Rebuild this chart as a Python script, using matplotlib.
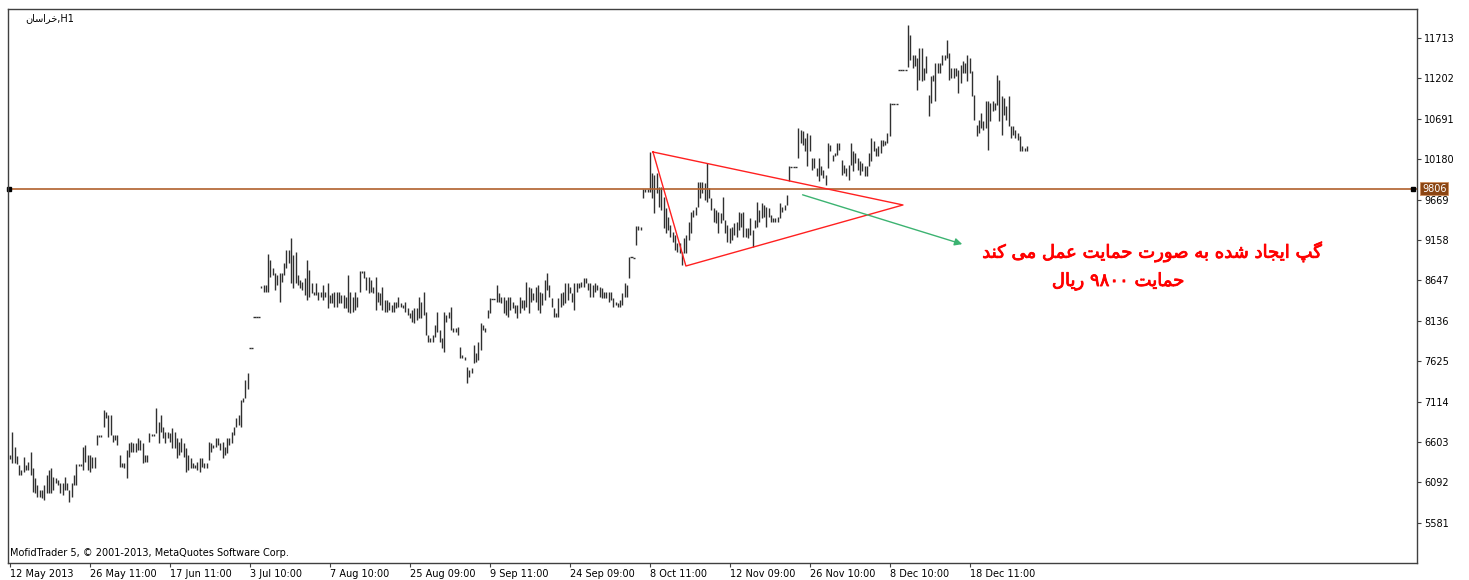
'''
Khorasan H1 bar chart (MofidTrader screenshot) with support line and triangle
'''

import re
import matplotlib
matplotlib.use('Agg')
import matplotlib.pyplot as plt
import matplotlib.patheffects as pe
import numpy as np

# bar highs / lows (rial), one entry per H1 bar, left to right
highs = [
    6438, 6729, 6539, 6426, 6312, 6249, 6413, 6312, 6350, 6476, 6274, 6147, 6059, 5996, 5996,
    6059, 6185, 6249, 6274, 6160, 6147, 6122, 6084, 6084, 6160, 6084, 5996, 6084, 6185, 6324,
    6324, 6324, 6539, 6565, 6438, 6438, 6413, 6413, 6691, 6691, 6691, 7008, 6982, 6944, 6944,
    6691, 6691, 6691, 6438, 6337, 6337, 6501, 6590, 6603, 6590, 6590, 6653, 6628, 6590, 6438,
    6438, 6717, 6704, 6704, 7033, 6856, 6944, 6792, 6729, 6729, 6717, 6780, 6729, 6653, 6603,
    6653, 6590, 6527, 6438, 6400, 6337, 6312, 6350, 6400, 6400, 6337, 6337, 6603, 6590, 6565,
    6653, 6653, 6590, 6603, 6539, 6653, 6653, 6729, 6792, 6906, 6944, 7134, 7159, 7387,
    # Jul - Aug
    7476, 7792, 7792, 8184, 8184, 8184, 8576, 8589, 8589, 8981, 8905, 8804, 8741, 8715, 8741,
    8741, 8867, 9032, 9032, 9183, 8968, 9006, 8715, 8652, 8627, 8677, 8905, 8779, 8614, 8500,
    8614, 8500, 8500, 8589, 8500, 8614, 8462, 8488, 8500, 8500, 8500, 8462, 8462, 8437, 8715,
    8500, 8437, 8500, 8437, 8766, 8766, 8766, 8690, 8690, 8652, 8563, 8690, 8500, 8488, 8563,
    8399, 8399, 8374, 8336, 8374, 8374, 8437, 8361, 8336, 8374, 8298, 8235, 8273, 8298, 8298,
    8437, 8374, 8500, 8247, 7956, 7918, 7956, 8083, 8247, 8020, 7918, 8247, 8209, 8247, 8310,
    8045, 8045, 8057, 7804, 7703, 7678, 7551, 7514, 7539, 7830, 7729, 7868, 8108, 8083, 8045,
    8273,
    # Sep - Nov
    8424, 8412, 8412, 8589, 8488, 8437, 8437, 8399, 8437, 8437, 8374, 8336, 8336, 8437, 8399,
    8399, 8627, 8563, 8551, 8488, 8563, 8589, 8500, 8488, 8652, 8741, 8589, 8424, 8298, 8235,
    8424, 8488, 8500, 8614, 8614, 8563, 8488, 8614, 8614, 8614, 8627, 8677, 8677, 8614, 8614,
    8589, 8614, 8589, 8563, 8551, 8500, 8500, 8500, 8500, 8424, 8374, 8361, 8399, 8488, 8614,
    8589, 8943, 8943, 8930, 9335, 9335, 9322, 9803, 9803, 9803, 10271, 10006, 9980, 10006, 9828,
    9828, 9702, 9563, 9449, 9348, 9259, 9221, 9120, 9120, 9006, 9183, 9221, 9386, 9512, 9538,
    9575, 9892, 9892, 9892, 9879, 10132, 9816, 9689, 9563, 9538, 9512, 9500, 9702, 9411, 9348,
    9310, 9322, 9373, 9386, 9512, 9500, 9512, 9310, 9310, 9436, 9285, 9411, 9639, 9538, 9626,
    9601, 9575, 9563, 9474, 9436, 9436, 9449, 9626, 9575, 9601, 9727,
    # Nov - Dec
    10094, 10081, 10081, 10081, 10575, 10550, 10537, 10448, 10512, 10486, 10195, 10195, 10069, 10195, 10094,
    10044, 9980, 10385, 10360, 10233, 10259, 10385, 10385, 10170, 10107, 10069, 10107, 10385, 10284, 10259,
    10195, 10157, 10132, 10094, 10094, 10259, 10448, 10410, 10322, 10347, 10423, 10423, 10410, 10512, 10891,
    10878, 10878, 10878, 11309, 11309, 11309, 11309, 11878, 11751, 11498, 11498, 11460, 11587, 11587, 11334,
    11486, 10992, 11233, 11246, 11397, 11397, 11397, 11498, 11498, 11688, 11524, 11334, 11334, 11334, 11309,
    11372, 11422, 11397, 11498, 11460, 11296, 10992, 10613, 10676, 10765, 10663, 10916, 10916, 10891, 10916,
    10891, 11246, 11182, 10980, 10954, 10853, 10980, 10600, 10600, 10550, 10512, 10474, 10347, 10322, 10347,
]
lows = [
    6388, 6337, 6337, 6324, 6185, 6185, 6223, 6249, 6249, 6185, 5970, 5958, 5907, 5907, 5894,
    5869, 5958, 5958, 5958, 5996, 6084, 6059, 5958, 5932, 5996, 5996, 5844, 5907, 6059, 6059,
    6299, 6299, 6249, 6350, 6249, 6223, 6274, 6274, 6565, 6666, 6666, 6792, 6906, 6666, 6691,
    6603, 6628, 6565, 6286, 6286, 6274, 6147, 6413, 6476, 6476, 6476, 6501, 6501, 6337, 6350,
    6350, 6603, 6679, 6679, 6717, 6590, 6729, 6653, 6590, 6653, 6603, 6527, 6527, 6400, 6438,
    6476, 6413, 6223, 6249, 6274, 6274, 6274, 6249, 6223, 6286, 6274, 6274, 6375, 6476, 6527,
    6539, 6565, 6501, 6400, 6438, 6464, 6565, 6590, 6691, 6792, 6818, 6792, 7109, 7159,
    # Jul - Aug
    7273, 7792, 7792, 8184, 8184, 8184, 8551, 8500, 8500, 8500, 8690, 8715, 8526, 8589, 8374,
    8627, 8715, 8804, 8867, 8614, 8551, 8614, 8589, 8551, 8526, 8462, 8399, 8437, 8488, 8462,
    8462, 8399, 8437, 8399, 8437, 8298, 8361, 8361, 8310, 8310, 8361, 8361, 8298, 8298, 8247,
    8235, 8247, 8273, 8310, 8500, 8741, 8677, 8526, 8488, 8500, 8488, 8273, 8374, 8336, 8273,
    8247, 8247, 8273, 8247, 8247, 8298, 8310, 8310, 8298, 8247, 8209, 8171, 8121, 8108, 8146,
    8171, 8171, 8209, 7956, 7868, 7868, 7868, 7931, 7994, 7868, 7792, 7741, 8121, 8171, 8020,
    7994, 7994, 7956, 7665, 7665, 7640, 7349, 7425, 7476, 7602, 7615, 7640, 7767, 8020, 7994,
    8171,
    # Sep - Nov
    8235, 8412, 8412, 8374, 8374, 8361, 8235, 8209, 8184, 8273, 8298, 8235, 8171, 8235, 8298,
    8273, 8310, 8235, 8374, 8399, 8374, 8273, 8235, 8336, 8399, 8526, 8437, 8310, 8184, 8184,
    8184, 8310, 8336, 8361, 8399, 8488, 8374, 8273, 8500, 8551, 8563, 8563, 8614, 8526, 8437,
    8437, 8500, 8526, 8437, 8424, 8424, 8424, 8374, 8399, 8310, 8336, 8310, 8310, 8336, 8437,
    8437, 8677, 8943, 8930, 9095, 9285, 9285, 9689, 9765, 9765, 9765, 9689, 9500, 9753, 9575,
    9538, 9310, 9247, 9285, 9196, 9133, 9032, 9006, 8994, 8842, 8994, 8994, 9158, 9247, 9449,
    9474, 9575, 9689, 9753, 9664, 9639, 9689, 9538, 9386, 9373, 9247, 9373, 9411, 9247, 9133,
    9120, 9158, 9221, 9196, 9285, 9322, 9196, 9196, 9183, 9221, 9070, 9310, 9322, 9386, 9436,
    9449, 9322, 9449, 9386, 9386, 9386, 9386, 9436, 9512, 9538, 9601,
    # Nov - Dec
    9904, 10081, 10081, 10081, 10195, 10385, 10360, 10284, 10094, 10284, 10044, 10069, 9968, 9904, 9980,
    9942, 9854, 10069, 10284, 10157, 10221, 10233, 10297, 9980, 10006, 9968, 9917, 10107, 10031, 10132,
    10044, 9980, 10031, 9968, 9968, 10094, 10157, 10284, 10221, 10221, 10259, 10347, 10360, 10385, 10474,
    10878, 10878, 10878, 11309, 11309, 11309, 11309, 11347, 11435, 11334, 11359, 11056, 11182, 11169, 11182,
    11271, 10727, 10891, 11169, 10916, 11271, 11271, 11372, 11435, 11460, 11182, 11207, 11207, 11233, 11018,
    11144, 11271, 11271, 11169, 11271, 10980, 10676, 10474, 10512, 10575, 10550, 10575, 10297, 10663, 10790,
    10803, 10866, 10663, 10486, 10739, 10676, 10600, 10448, 10486, 10448, 10423, 10284, 10284, 10284, 10284,
]

tick_labels = ['12 May 2013', '26 May 11:00', '17 Jun 11:00', '3 Jul 10:00', '7 Aug 10:00',
               '25 Aug 09:00', '9 Sep 11:00', '24 Sep 09:00', '8 Oct 11:00', '12 Nov 09:00',
               '26 Nov 10:00', '8 Dec 10:00', '18 Dec 11:00']
bars_per_label = 35
price_ticks = [5581 + 511 * k for k in range(13)]
support_price = 9806

# chart objects drawn by the analyst: (bar index, price)
triangle_x = [281.4, 295.8, 390.8, 281.4]
triangle_y = [10271, 8829, 9601, 10271]
arrow_from = (345.7, 9740)
arrow_to = (417.9, 9095)

note_line1 = 'گپ ایجاد شده به صورت حمایت عمل می کند'
note_line2 = 'حمایت ۹۸۰۰ ریال'
symbol = 'خراسان'

# arabic presentation forms: isolated, final, initial, medial
FORMS = {
    'ا': ('\uFE8D', '\uFE8E', None, None),
    'ب': ('\uFE8F', '\uFE90', '\uFE91', '\uFE92'),
    'پ': ('\uFB56', '\uFB57', '\uFB58', '\uFB59'),
    'ت': ('\uFE95', '\uFE96', '\uFE97', '\uFE98'),
    'ج': ('\uFE9D', '\uFE9E', '\uFE9F', '\uFEA0'),
    'ح': ('\uFEA1', '\uFEA2', '\uFEA3', '\uFEA4'),
    'خ': ('\uFEA5', '\uFEA6', '\uFEA7', '\uFEA8'),
    'د': ('\uFEA9', '\uFEAA', None, None),
    'ر': ('\uFEAD', '\uFEAE', None, None),
    'س': ('\uFEB1', '\uFEB2', '\uFEB3', '\uFEB4'),
    'ش': ('\uFEB5', '\uFEB6', '\uFEB7', '\uFEB8'),
    'ص': ('\uFEB9', '\uFEBA', '\uFEBB', '\uFEBC'),
    'ع': ('\uFEC9', '\uFECA', '\uFECB', '\uFECC'),
    'ک': ('\uFB8E', '\uFB8F', '\uFB90', '\uFB91'),
    'گ': ('\uFB92', '\uFB93', '\uFB94', '\uFB95'),
    'ل': ('\uFEDD', '\uFEDE', '\uFEDF', '\uFEE0'),
    'م': ('\uFEE1', '\uFEE2', '\uFEE3', '\uFEE4'),
    'ن': ('\uFEE5', '\uFEE6', '\uFEE7', '\uFEE8'),
    'ه': ('\uFEE9', '\uFEEA', '\uFEEB', '\uFEEC'),
    'و': ('\uFEED', '\uFEEE', None, None),
    'ی': ('\uFBFC', '\uFBFD', '\uFBFE', '\uFBFF'),
}


def farsi(text):
    '''shape persian letters and put them in visual (left to right) order'''
    out = []
    for i, ch in enumerate(text):
        if ch not in FORMS:
            out.append(ch)
            continue
        prev = text[i - 1] if i > 0 else ''
        nxt = text[i + 1] if i + 1 < len(text) else ''
        join_prev = prev in FORMS and FORMS[prev][2] is not None
        join_next = FORMS[ch][2] is not None and nxt in FORMS
        iso, fin, ini, med = FORMS[ch]
        if join_prev and join_next:
            out.append(med)
        elif join_prev:
            out.append(fin)
        elif join_next:
            out.append(ini)
        else:
            out.append(iso)
    visual = ''.join(out)[::-1]
    return re.sub(r'[0-9\u06F0-\u06F9]+', lambda m: m.group()[::-1], visual)


plt.rcParams['font.family'] = ['DejaVu Sans']
fig = plt.figure(figsize=(14.69, 5.80), dpi=100)
ax = fig.add_axes([8 / 1469, 17 / 580, 1409 / 1469, 554 / 580])

idx = np.arange(len(highs))
hi = np.array(highs)
lo = np.array(lows)
flat = hi == lo
ax.vlines(idx[~flat], lo[~flat], hi[~flat], color='#303030', lw=1.0)
ax.hlines(hi[flat], idx[flat] - 0.45, idx[flat] + 0.45, color='#303030', lw=1.0)

# support line with end handles and price tag
ax.axhline(support_price, color='#b0602c', lw=1.2)
trans = ax.get_yaxis_transform()
ax.plot([0.001, 0.997], [support_price, support_price], 's', color='black',
        ms=3.5, transform=trans, clip_on=False)
ax.text(1.0035, support_price, str(support_price), transform=trans, ha='left',
        va='center', fontsize=7, color='white',
        bbox=dict(boxstyle='square,pad=0.15', fc='#8b4513', ec='#d09060', lw=0.6))

ax.plot(triangle_x, triangle_y, color='#ff2020', lw=1.0)
ax.annotate('', xy=arrow_to, xytext=arrow_from,
            arrowprops=dict(arrowstyle='-|>', color='#3cb371', lw=1.0,
                            mutation_scale=11))

heavy = [pe.withStroke(linewidth=0.6, foreground='#ff0000')]
ax.text(499.8, 9006, farsi(note_line1), color='#ff0000', fontsize=13,
        ha='center', va='center', path_effects=heavy)
ax.text(484.9, 8639, farsi(note_line2), color='#ff0000', fontsize=13,
        ha='center', va='center', path_effects=heavy)

ax.text(0.012, 0.984, farsi(symbol) + ',H1', transform=ax.transAxes,
        fontsize=7, ha='left', va='center')
ax.text(0.0015, 0.018, 'MofidTrader 5, © 2001-2013, MetaQuotes Software Corp.',
        transform=ax.transAxes, fontsize=7, ha='left', va='center')

px_per_bar = 2.285
ax.set_xlim(-2 / px_per_bar, 1407 / px_per_bar)
ax.set_ylim(5072, 12080)

ax.yaxis.tick_right()
ax.set_yticks(price_ticks)
ax.set_yticklabels([str(p) for p in price_ticks])
ax.set_xticks([k * bars_per_label for k in range(len(tick_labels))])
ax.set_xticklabels(tick_labels, ha='left')
ax.tick_params(axis='both', direction='out', length=3, width=0.8, labelsize=7,
               color='#404040', pad=1)
ax.tick_params(axis='y', pad=2)
for spine in ax.spines.values():
    spine.set_color('#404040')
    spine.set_linewidth(1.0)

fig.savefig('out.png', dpi=100, facecolor='white')
